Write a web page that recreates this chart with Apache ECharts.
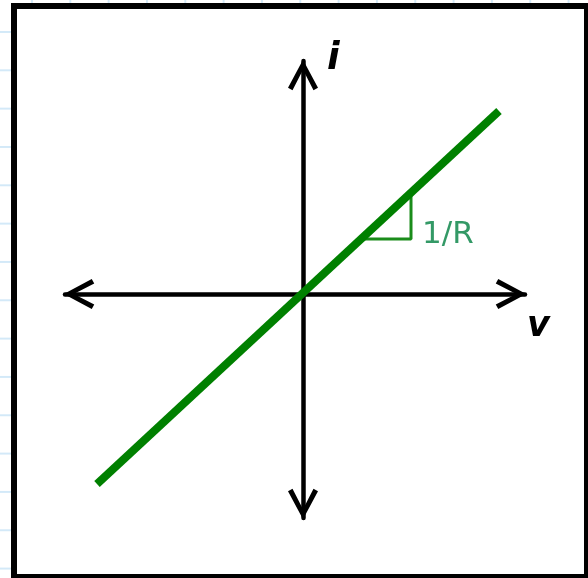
<!DOCTYPE html>
<html>
<head>
<meta charset="utf-8">
<script src="https://cdn.jsdelivr.net/npm/echarts@6/dist/echarts.min.js"></script>
<style>
  html, body { margin: 0; padding: 0; }
  body {
    width: 588px; height: 578px; overflow: hidden; position: relative;
    background-color: #fff;
    background-image:
      linear-gradient(to right, #d3e9f8 2px, transparent 2px),
      linear-gradient(to bottom, #d3e9f8 2px, transparent 2px);
    background-size: 38.33px 38.33px;
    background-position: 31px 31px;
  }
  #frame {
    position: absolute; left: 11px; top: 3px; width: 579px; height: 577px;
    box-sizing: border-box; border: 6px solid #000; background: #fff;
  }
  #main { position: absolute; left: 0; top: 0; width: 588px; height: 578px; }
</style>
</head>
<body>
<div id="frame"></div>
<div id="main"></div>
<script>
// axis extents (v across, i up), origin where the arrows cross
const vRange = [-238, 222];
const iRange = [-224, 233];

// the resistor line i = v / R
const vLine = [-206, 196];
const iLine = [-190, 183];

// little slope triangle under the line
const triV = [59, 108, 108];
const triI = [55, 55, 101];

const axisNames = { v: 'v', i: 'i', slope: '1/R' };

// open chevron, drawn pointing up, echarts turns it along the axis
const chevron = 'path://M15 0 L30 28 L25.5 30.5 L15 10 L4.5 30.5 L0 28 Z';

document.addEventListener('DOMContentLoaded', function(){
  var chart = echarts.init(document.getElementById('main'), null, { renderer: 'canvas' });

  const axisBase = {
    type: 'value',
    axisTick: { show: false },
    axisLabel: { show: false },
    splitLine: { show: false },
    axisLine: {
      show: true,
      onZero: true,
      lineStyle: { color: '#000', width: 4.5 },
      symbol: [chevron, chevron],
      symbolSize: [30, 30.5],
      symbolOffset: [14, -14]
    }
  };

  chart.setOption({
    backgroundColor: 'transparent',
    animation: false,
    grid: { left: 65, right: 63, top: 61, bottom: 60 },
    xAxis: Object.assign({}, axisBase, { min: vRange[0], max: vRange[1] }),
    yAxis: Object.assign({}, axisBase, { min: iRange[0], max: iRange[1] }),
    graphic: [
      {
        type: 'text', z: 100, x: 327, y: 59,
        style: { text: axisNames.i, fill: '#000', font: 'italic bold 37px "DejaVu Sans"', textVerticalAlign: 'middle' }
      },
      {
        type: 'text', z: 100, x: 527, y: 327,
        style: { text: axisNames.v, fill: '#000', font: 'italic bold 35px "DejaVu Sans"', textVerticalAlign: 'middle' }
      },
      {
        type: 'text', z: 100, x: 422, y: 235,
        style: { text: axisNames.slope, fill: '#339966', font: '31px "DejaVu Sans"', textVerticalAlign: 'middle' }
      }
    ],
    series: [
      {
        type: 'line',
        z: 3,
        showSymbol: false,
        silent: true,
        lineStyle: { color: '#1a8c1a', width: 3 },
        data: triV.map((v, k) => [v, triI[k]])
      },
      {
        type: 'line',
        z: 5,
        showSymbol: false,
        silent: true,
        lineStyle: { color: '#008000', width: 8, cap: 'butt' },
        data: vLine.map((v, k) => [v, iLine[k]])
      }
    ]
  });
});
</script>
</body>
</html>
